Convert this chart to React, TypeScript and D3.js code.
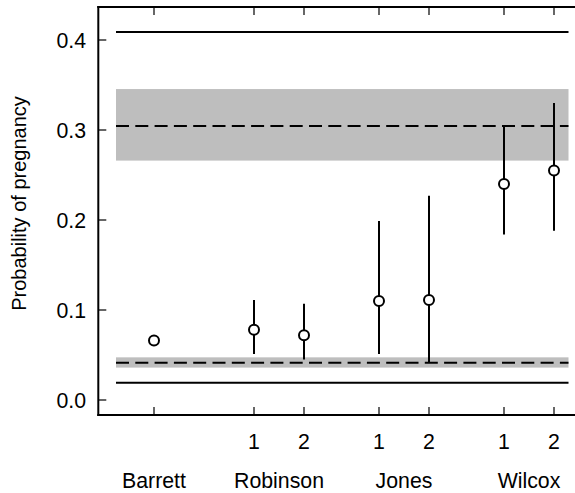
import React from "react";
import * as d3 from "d3";

// ---- data ----
const studies = ["Barrett", "Robinson", "Robinson", "Jones", "Jones", "Wilcox", "Wilcox"];
const subLabels = ["", "1", "2", "1", "2", "1", "2"];
const positions = [1, 3, 4, 5.5, 6.5, 8, 9];
const estimates = [0.066, 0.078, 0.072, 0.11, 0.111, 0.24, 0.255];
const lower = [0.064, 0.051, 0.045, 0.051, 0.042, 0.184, 0.188];
const upper = [0.068, 0.111, 0.107, 0.199, 0.227, 0.304, 0.33];
const groupNames = ["Barrett", "Robinson", "Jones", "Wilcox"];
const groupCenters = [1, 3.5, 6, 8.5];
const yTicks = [0.0, 0.1, 0.2, 0.3, 0.4];
const solidRefs = [0.409, 0.0193];
const dashedRefs = [0.3045, 0.0415];
const bandLow = [0.266, 0.036];
const bandHigh = [0.3455, 0.0474];
const refStart = 0.24;
const refEnd = 9.29;

const W = 575;
const H = 493;
const FONT = "'Liberation Sans', Arial, Helvetica, sans-serif";
const FS = 21.3;

export default function App() {
  const x = d3.scaleLinear().domain([0, 10]).range([104, 604]);
  const y = d3.scaleLinear().domain([0, 0.4]).range([400, 40]);
  const left = 98.3;
  const top = 7;
  const bottom = 415;

  return (
    <svg
      width={W}
      height={H}
      style={{ position: "absolute", left: 0, top: 0, background: "#fff" }}
      fontFamily={FONT}
    >
      {/* bands */}
      {bandLow.map((lo, i) => (
        <rect
          key={"b" + i}
          x={x(refStart)}
          width={x(refEnd) - x(refStart)}
          y={y(bandHigh[i])}
          height={y(lo) - y(bandHigh[i])}
          fill="#bebebe"
        />
      ))}
      {/* dashed refs */}
      {dashedRefs.map((v, i) => (
        <line
          key={"d" + i}
          x1={x(refStart)}
          x2={x(refEnd)}
          y1={y(v)}
          y2={y(v)}
          stroke="#000"
          strokeWidth={2}
          strokeDasharray="13,6.3"
        />
      ))}
      {/* solid refs */}
      {solidRefs.map((v, i) => (
        <line
          key={"s" + i}
          x1={x(refStart)}
          x2={x(refEnd)}
          y1={y(v)}
          y2={y(v)}
          stroke="#000"
          strokeWidth={2}
        />
      ))}
      {/* error bars */}
      {positions.map((p, i) => (
        <line
          key={"e" + i}
          x1={x(p)}
          x2={x(p)}
          y1={y(lower[i])}
          y2={y(upper[i])}
          stroke="#000"
          strokeWidth={2}
        />
      ))}
      {/* points */}
      {positions.map((p, i) => (
        <circle
          key={"p" + i}
          cx={x(p)}
          cy={y(estimates[i])}
          r={5}
          fill="#fff"
          stroke="#000"
          strokeWidth={2}
        >
          <title>{studies[i] + " " + subLabels[i]}</title>
        </circle>
      ))}
      {/* axes frame */}
      <line x1={left} x2={left} y1={top - 1} y2={bottom + 1} stroke="#000" strokeWidth={2} />
      <line x1={left - 1} x2={W} y1={top} y2={top} stroke="#000" strokeWidth={2} />
      <line x1={left - 1} x2={W} y1={bottom} y2={bottom} stroke="#000" strokeWidth={2} />
      {/* y ticks */}
      {yTicks.map((t) => (
        <g key={"yt" + t}>
          <line x1={left} x2={left + 8} y1={y(t)} y2={y(t)} stroke="#000" strokeWidth={1.2} />
          <text x={86} y={y(t) + 7.6} textAnchor="end" fontSize={FS} fill="#000">
            {d3.format(".1f")(t)}
          </text>
        </g>
      ))}
      {/* x ticks top and bottom */}
      {positions.map((p, i) => (
        <g key={"xt" + i}>
          <line x1={x(p)} x2={x(p)} y1={bottom} y2={bottom - 8} stroke="#000" strokeWidth={1.2} />
          <line x1={x(p)} x2={x(p)} y1={top} y2={top + 8} stroke="#000" strokeWidth={1.2} />
          <text x={x(p)} y={449} textAnchor="middle" fontSize={FS} fill="#000">
            {subLabels[i]}
          </text>
        </g>
      ))}
      {/* group labels */}
      {groupNames.map((g, i) => (
        <text key={"g" + i} x={x(groupCenters[i])} y={487.5} textAnchor="middle" fontSize={FS} fill="#000">
          {g}
        </text>
      ))}
      {/* y label */}
      <text
        transform={`translate(25.5, 203.5) rotate(-90)`}
        textAnchor="middle"
        fontSize={20}
        fill="#000"
      >
        Probability of pregnancy
      </text>
    </svg>
  );
}
